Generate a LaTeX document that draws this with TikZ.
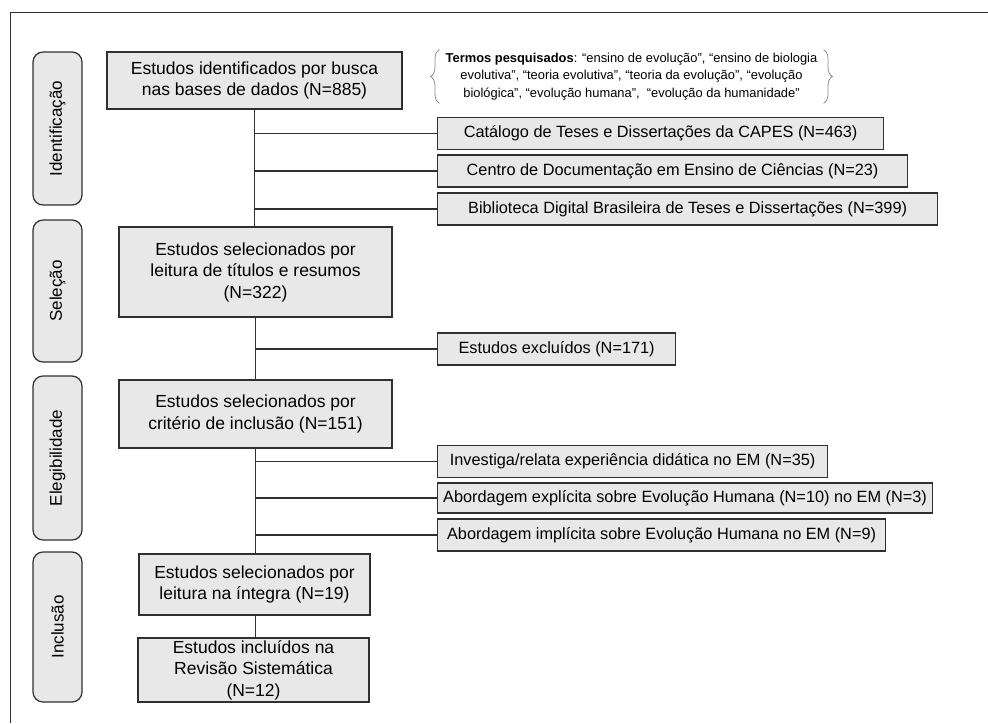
\documentclass[tikz,border=0pt]{standalone}
\usepackage{fontspec}
\setmainfont{Liberation Sans}
\usepackage{tikz}
\usetikzlibrary{decorations.pathreplacing}

\definecolor{boxgray}{HTML}{E8E8E8}
\definecolor{linegray}{HTML}{303030}
\definecolor{bracegray}{HTML}{8C8C8C}

\begin{document}
\begin{tikzpicture}[x=1pt,y=-1pt,
    box/.style={rectangle,draw=linegray,line width=1.2pt,fill=boxgray,
        align=center,inner sep=0pt,font=\fontsize{17.5}{21.5}\selectfont},
    phase/.style={rectangle,rounded corners=10pt,draw=linegray,line width=1.2pt,
        fill=boxgray,rotate=90,minimum height=49pt,font=\fontsize{17}{19}\selectfont},
    sidebox/.style={box,anchor=west,minimum height=32pt,font=\fontsize{16.3}{19}\selectfont},
    link/.style={draw=linegray,line width=1.2pt}]

    \useasboundingbox (0,0) rectangle (988,723);
    \draw[linegray,line width=1pt] (988,12) -- (10,12) -- (10,723);

    % fases
    \node[phase,minimum width=153pt] (ident) at (57.5,128.5) {Identificação};
    \node[phase,minimum width=142pt] (selec) at (57.5,291) {Seleção};
    \node[phase,minimum width=164pt] (elegi) at (57.5,458) {Elegibilidade};
    \node[phase,minimum width=150pt] (inclu) at (57.5,627) {Inclusão};

    % caixas principais
    \node[box,minimum width=295pt,minimum height=57pt] (busca) at (254.5,80.5)
        {Estudos identificados por busca\\nas bases de dados (N=885)};
    \node[box,minimum width=273pt,minimum height=90pt] (titulos) at (255.5,272)
        {Estudos selecionados por\\leitura de títulos e resumos\\(N=322)};
    \node[box,minimum width=273pt,minimum height=68pt] (criterio) at (255.5,414)
        {Estudos selecionados por\\critério de inclusão (N=151)};
    \node[box,minimum width=231pt,minimum height=61pt] (integra) at (254.5,584.5)
        {Estudos selecionados por\\leitura na íntegra (N=19)};
    \node[box,minimum width=231pt,minimum height=64pt] (revisao) at (253.5,670)
        {Estudos incluídos na\\Revisão Sistemática\\(N=12)};

    % termos
    \node[align=center,inner xsep=6pt,inner ysep=3pt,
        font=\fontsize{12.9}{17.5}\selectfont] (termos) at (631.5,76.5)
        {\textbf{Termos pesquisados}: “ensino de evolução”, “ensino de biologia\\
         evolutiva”, “teoria evolutiva”, “teoria da evolução”, “evolução\\
         biológica”, “evolução humana”,~ “evolução da humanidade”};
    \draw[bracegray,line width=0.8pt,decorate,decoration={brace,amplitude=9pt}]
        (termos.south west) -- (termos.north west);
    \draw[bracegray,line width=0.8pt,decorate,decoration={brace,amplitude=9pt}]
        (termos.north east) -- (termos.south east);

    % caixas laterais
    \node[sidebox,minimum width=446pt] (capes) at (437,133.5)
        {Catálogo de Teses e Dissertações da CAPES (N=463)};
    \node[sidebox,minimum width=470pt] (cedoc) at (437,171)
        {Centro de Documentação em Ensino de Ciências (N=23)};
    \node[sidebox,minimum width=500pt] (bdtd) at (437,209)
        {Biblioteca Digital Brasileira de Teses e Dissertações (N=399)};
    \node[sidebox,minimum width=238pt] (excl) at (437,349)
        {Estudos excluídos (N=171)};
    \node[sidebox,minimum width=390pt] (didat) at (437,461.5)
        {Investiga/relata experiência didática no EM (N=35)};
    \node[sidebox,minimum width=495pt,minimum height=30pt] (explic) at (437,498)
        {Abordagem explícita sobre Evolução Humana (N=10) no EM (N=3)};
    \node[sidebox,minimum width=448pt] (implic) at (437,535)
        {Abordagem implícita sobre Evolução Humana no EM (N=9)};

    % ligacoes
    \path[link] (busca.south) -- (busca.south |- titulos.north);
    \path[link] (titulos.south) -- (titulos.south |- criterio.north);
    \path[link] (criterio.south) -- (criterio.south |- integra.north);
    \path[link] (integra.south -| criterio.south) -- (criterio.south |- revisao.north);
    \foreach \dest in {capes,cedoc,bdtd}
        \path[link] (busca.south |- \dest.west) -- (\dest.west);
    \path[link] (titulos.south |- excl.west) -- (excl.west);
    \foreach \dest in {didat,explic,implic}
        \path[link] (criterio.south |- \dest.west) -- (\dest.west);

\end{tikzpicture}
\end{document}
